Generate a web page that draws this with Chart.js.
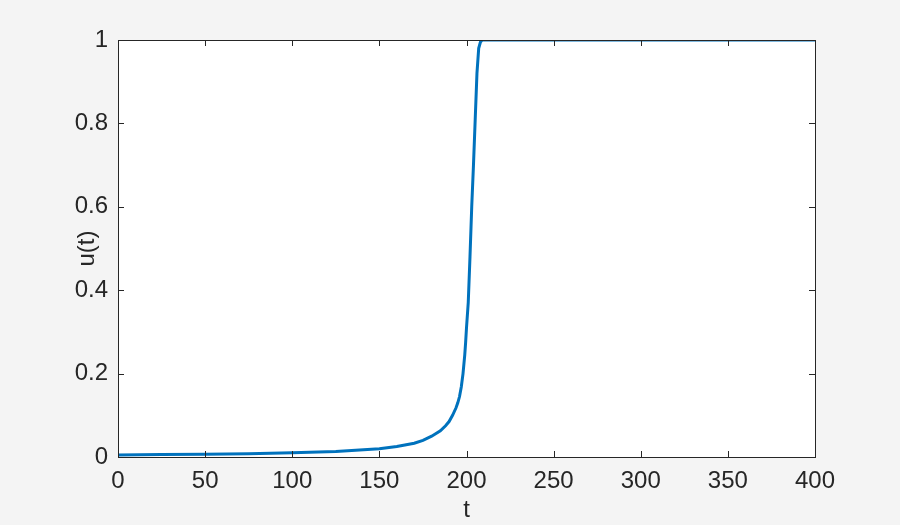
<!DOCTYPE html>
<html>
<head>
<meta charset="utf-8">
<script src="https://cdn.jsdelivr.net/npm/chart.js@4.4.1/dist/chart.umd.min.js"></script>
<style>
  html, body { margin: 0; padding: 0; background: #f4f4f4; }
  #wrap { width: 900px; height: 525px; }
</style>
</head>
<body>
<div id="wrap"><canvas id="grafico"></canvas></div>
<script>
// datos
const tiempos = [0, 25, 50, 75, 100, 125, 150, 160, 170, 175, 180, 185, 188, 190, 192, 194, 195, 196, 197, 198, 199, 199.5,
  200, 201, 202, 203, 204, 205, 206, 207, 208, 209, 210, 250, 300, 350, 400];
const valores = [0.005, 0.0057, 0.0067, 0.008, 0.010, 0.0133, 0.020, 0.025, 0.033, 0.040, 0.050, 0.063, 0.075, 0.085, 0.100, 0.118, 0.13, 0.145, 0.168, 0.20, 0.245, 0.275,
  0.31, 0.37, 0.48, 0.60, 0.70, 0.81, 0.92, 0.98, 0.995, 1.0, 1.0, 1.0, 1.0, 1.0, 1.0];
const ticksX = [0, 50, 100, 150, 200, 250, 300, 350, 400];
const ticksY = [0, 0.2, 0.4, 0.6, 0.8, 1];

const fuente = '"Liberation Sans", Arial, sans-serif';
const gris = '#262626';

// fondo blanco del area y marco con ticks hacia adentro (estilo matlab)
const marco = {
  id: 'marco',
  beforeDraw(chart) {
    const c = chart.ctx, a = chart.chartArea;
    c.save();
    c.fillStyle = '#ffffff';
    c.fillRect(a.left, a.top, a.right - a.left, a.bottom - a.top);
    c.restore();
  },
  afterDraw(chart) {
    const c = chart.ctx, a = chart.chartArea;
    const sx = chart.scales.x, sy = chart.scales.y;
    const largo = 6;
    c.save();
    c.strokeStyle = gris;
    c.lineWidth = 1;
    c.beginPath();
    ticksX.forEach(v => {
      const px = Math.round(sx.getPixelForValue(v)) + 0.5;
      c.moveTo(px, a.bottom); c.lineTo(px, a.bottom - largo);
      c.moveTo(px, a.top); c.lineTo(px, a.top + largo);
    });
    ticksY.forEach(v => {
      const py = Math.round(sy.getPixelForValue(v)) + 0.5;
      c.moveTo(a.left, py); c.lineTo(a.left + largo, py);
      c.moveTo(a.right, py); c.lineTo(a.right - largo, py);
    });
    c.stroke();
    c.strokeRect(Math.round(a.left) + 0.5, Math.round(a.top) + 0.5,
      Math.round(a.right - a.left), Math.round(a.bottom - a.top));
    c.restore();
  }
};

const ctx = document.getElementById('grafico');
new Chart(ctx, {
  type: 'line',
  data: {
    datasets: [{
      label: 'u(t)',
      data: tiempos.map((t, i) => ({ x: t, y: valores[i] })),
      borderColor: '#0072BD',
      borderWidth: 3,
      pointRadius: 0,
      tension: 0,
      fill: false
    }]
  },
  options: {
    responsive: true,
    maintainAspectRatio: false,
    animation: false,
    layout: { padding: { top: 40, right: 85, left: 0, bottom: 0 } },
    plugins: {
      legend: { display: false },
      tooltip: { enabled: false }
    },
    scales: {
      x: {
        type: 'linear',
        min: 0, max: 400,
        afterFit: s => { s.height = 68; },
        afterBuildTicks: s => { s.ticks = ticksX.map(v => ({ value: v })); },
        grid: { display: false, drawTicks: false },
        border: { display: false },
        ticks: { color: gris, font: { family: fuente, size: 24 }, padding: 10, maxRotation: 0 },
        title: { display: true, text: 't', color: gris, font: { family: fuente, size: 24 }, padding: { top: 0, bottom: 0 } }
      },
      y: {
        type: 'linear',
        min: 0, max: 1,
        afterFit: s => { s.width = 118; },
        afterBuildTicks: s => { s.ticks = ticksY.map(v => ({ value: v })); },
        grid: { display: false, drawTicks: false },
        border: { display: false },
        ticks: { color: gris, font: { family: fuente, size: 24 }, padding: 10,
          callback: v => String(v) },
        title: { display: true, text: 'u(t)', color: gris, font: { family: fuente, size: 24 }, padding: { top: 73, bottom: 0 } }
      }
    }
  },
  plugins: [marco]
});
</script>
</body>
</html>
